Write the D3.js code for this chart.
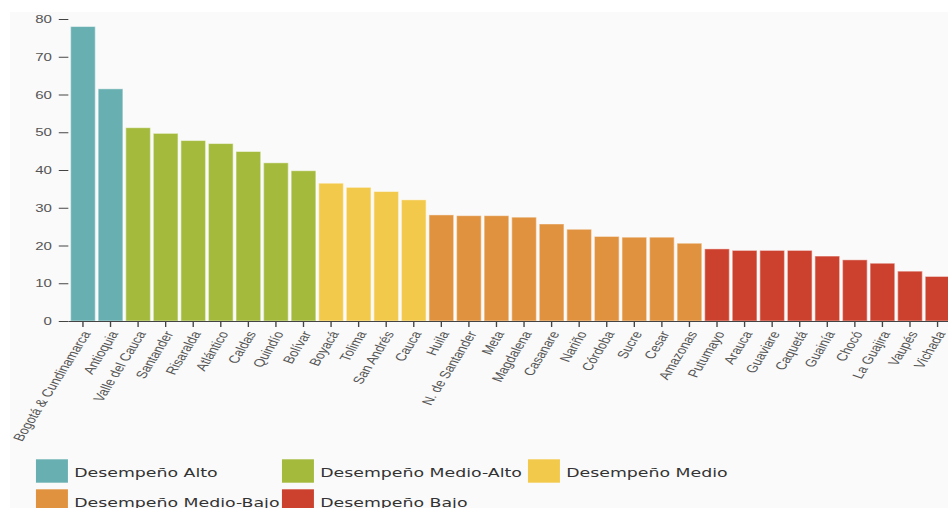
<!DOCTYPE html>
<html>
<head>
<meta charset="utf-8">
<script src="https://cdn.jsdelivr.net/npm/d3@7"></script>
<style>
  html, body { margin: 0; padding: 0; background: #ffffff; }
  svg { display: block; }
</style>
</head>
<body>
<svg id="chart" width="948" height="508"></svg>
<script>
// ---- data ----
const departments = ["Bogotá & Cundinamarca", "Antioquia", "Valle del Cauca", "Santander", "Risaralda",
  "Atlántico", "Caldas", "Quindío", "Bolívar", "Boyacá", "Tolima", "San Andrés", "Cauca", "Huila",
  "N. de Santander", "Meta", "Magdalena", "Casanare", "Nariño", "Córdoba", "Sucre", "Cesar", "Amazonas",
  "Putumayo", "Arauca", "Guaviare", "Caquetá", "Guainía", "Chocó", "La Guajira", "Vaupés", "Vichada"];
const values = [78.0, 61.5, 51.2, 49.7, 47.8, 47.0, 44.9, 41.9, 39.8, 36.5, 35.4, 34.3, 32.1, 28.1,
  27.9, 27.9, 27.5, 25.7, 24.3, 22.4, 22.2, 22.2, 20.6, 19.1, 18.7, 18.7, 18.7, 17.2, 16.2, 15.3, 13.2, 11.8];
const levels = ["Alto", "Alto",
  "Medio-Alto", "Medio-Alto", "Medio-Alto", "Medio-Alto", "Medio-Alto", "Medio-Alto", "Medio-Alto",
  "Medio", "Medio", "Medio", "Medio",
  "Medio-Bajo", "Medio-Bajo", "Medio-Bajo", "Medio-Bajo", "Medio-Bajo", "Medio-Bajo", "Medio-Bajo",
  "Medio-Bajo", "Medio-Bajo", "Medio-Bajo",
  "Bajo", "Bajo", "Bajo", "Bajo", "Bajo", "Bajo", "Bajo", "Bajo", "Bajo"];
const levelNames = ["Alto", "Medio-Alto", "Medio", "Medio-Bajo", "Bajo"];
const legendLabels = ["Desempeño Alto", "Desempeño Medio-Alto", "Desempeño Medio", "Desempeño Medio-Bajo", "Desempeño Bajo"];
const levelColors = ["#68afb2", "#a3ba3d", "#f2c94b", "#e0923f", "#cc412e"];
const yTicks = [0, 10, 20, 30, 40, 50, 60, 70, 80];

// ---- layout (the original picture is stretched horizontally) ----
const SX = 1.3667;
const svg = d3.select("#chart");
const root = svg.append("g").attr("transform", `scale(${SX},1)`);

root.append("rect")
  .attr("x", 10 / SX).attr("y", 12)
  .attr("width", (948 - 10) / SX + 2).attr("height", 508 - 12)
  .attr("fill", "#fafafa");

const x = d3.scaleBand().domain(departments).range([49.6, 697.1]).padding(0.1);
const y = d3.scaleLinear().domain([0, 80]).range([321, 19]);
const color = d3.scaleOrdinal().domain(levelNames).range(levelColors);

const data = departments.map((d, i) => ({ name: d, value: values[i], level: levels[i] }));

root.append("g").selectAll("rect")
  .data(data)
  .join("rect")
  .attr("x", d => x(d.name))
  .attr("y", d => y(d.value))
  .attr("width", x.bandwidth())
  .attr("height", d => y(0) - y(d.value))
  .attr("fill", d => color(d.level))
  .attr("stroke", "#ffffff")
  .attr("stroke-opacity", 0.45)
  .attr("stroke-width", 1);

// x axis
const xAxis = root.append("g")
  .attr("transform", `translate(0,${y(0)})`)
  .call(d3.axisBottom(x).tickSize(6).tickSizeOuter(0));
xAxis.select(".domain").attr("stroke", "#444");
xAxis.selectAll(".tick line").attr("stroke", "#444");
xAxis.selectAll("text")
  .attr("font-family", "'Liberation Sans', Arial, sans-serif")
  .attr("font-size", 11)
  .attr("fill", "#555")
  .style("text-anchor", "end")
  .attr("dx", "-.8em")
  .attr("dy", ".15em")
  .attr("transform", "rotate(-65)");

// y axis
const yAxis = root.append("g")
  .attr("transform", `translate(${x.range()[0] + 0.4},0)`)
  .call(d3.axisLeft(y).tickValues(yTicks).tickSize(7).tickPadding(5));
yAxis.select(".domain").remove();
yAxis.selectAll(".tick line").attr("stroke", "#444");
yAxis.selectAll("text")
  .attr("font-family", "'Liberation Sans', Arial, sans-serif")
  .attr("font-size", 11)
  .attr("fill", "#555");

// legend
const legend = root.append("g");
const items = legend.selectAll("g")
  .data(levelNames)
  .join("g")
  .attr("transform", (d, i) => `translate(${26.3 + (i % 3) * 180},${459.3 + Math.floor(i / 3) * 30})`);
items.append("rect")
  .attr("width", 23.4).attr("height", 23.4)
  .attr("fill", d => color(d));
items.append("text")
  .attr("x", 28)
  .attr("y", 18)
  .attr("font-family", "'DejaVu Sans', Verdana, sans-serif")
  .attr("font-size", 12.7)
  .attr("fill", "#333")
  .text((d, i) => legendLabels[i]);
</script>
</body>
</html>
